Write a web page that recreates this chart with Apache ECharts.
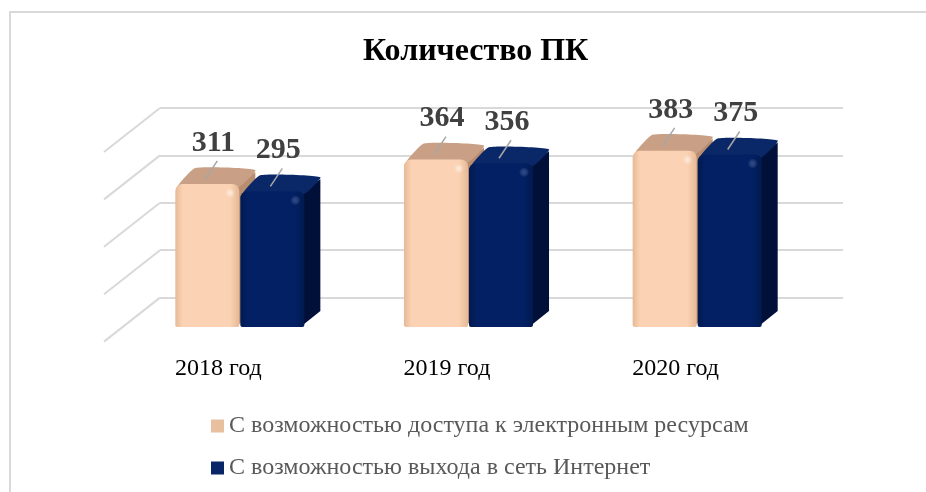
<!DOCTYPE html>
<html>
<head>
<meta charset="utf-8">
<script src="https://cdn.jsdelivr.net/npm/echarts@6/dist/echarts.min.js"></script>
<style>
  html, body { margin: 0; padding: 0; background: #fff; }
  #chart { width: 926px; height: 492px; }
</style>
</head>
<body>
<div id="chart"></div>
<script>
// chart data
const categories = ['2018 год', '2019 год', '2020 год'];
const seriesNames = [
    'С возможностью доступа к электронным ресурсам',
    'С возможностью выхода в сеть Интернет'
];
const accessValues = [311, 364, 383];
const internetValues = [295, 356, 375];
const wallTicks = [100, 200, 300, 400, 500];

const SERIF = '"Liberation Serif", "DejaVu Serif", serif';

// colours for each 3D bar: front edge, front middle, top, side, highlight
const palettes = [
    { edge: '#e6b996', mid: '#fbd3b4', top: '#c9a085', side: '#b98e70', glow: 'rgba(255,255,255,0.6)', legend: '#e8bf9f' },
    { edge: '#011a50', mid: '#022063', top: '#0a2868', side: '#011038', glow: 'rgba(120,150,220,0.35)', legend: '#0a2468' }
];

const DEPTH_X = 16;
const DEPTH_Y = -16;

function makeBarRenderer(seriesIdx) {
    const pal = palettes[seriesIdx];
    return function (params, api) {
        const cat = api.value(0);
        const val = api.value(1);
        const base = api.coord([cat, 0]);
        const top = api.coord([cat, val]);
        const band = api.size([1, 0])[0];
        const w = band * 0.28;
        const x0 = seriesIdx === 0 ? base[0] - w - 1 : base[0];
        const yTop = top[1];
        const yBot = base[1];
        const cx = x0 + w / 2;

        return {
            type: 'group',
            children: [
                {
                    type: 'polygon',
                    shape: { points: [
                        [x0 + w - 4, yTop + 2], [x0 + w + DEPTH_X, yTop + DEPTH_Y + 4],
                        [x0 + w + DEPTH_X, yBot + DEPTH_Y], [x0 + w - 4, yBot]
                    ] },
                    style: { fill: pal.side }
                },
                {
                    type: 'polygon',
                    shape: { points: [
                        [x0 + 2, yTop + 4], [x0 + w - 2, yTop + 4],
                        [x0 + w + DEPTH_X, yTop + DEPTH_Y + 2], [x0 + DEPTH_X + 4, yTop + DEPTH_Y]
                    ], smooth: 0.15 },
                    style: { fill: pal.top }
                },
                {
                    type: 'rect',
                    shape: { x: x0, y: yTop, width: w, height: yBot - yTop, r: [7, 7, 2, 2] },
                    style: {
                        fill: {
                            type: 'linear', x: 0, y: 0, x2: 1, y2: 0,
                            colorStops: [
                                { offset: 0, color: pal.edge },
                                { offset: 0.12, color: pal.mid },
                                { offset: 0.85, color: pal.mid },
                                { offset: 1, color: pal.edge }
                            ]
                        }
                    }
                },
                {
                    type: 'circle',
                    shape: { cx: x0 + w - 9, cy: yTop + 9, r: 5 },
                    style: {
                        fill: {
                            type: 'radial', x: 0.5, y: 0.5, r: 0.5,
                            colorStops: [
                                { offset: 0, color: pal.glow },
                                { offset: 1, color: 'rgba(255,255,255,0)' }
                            ]
                        }
                    }
                },
                {
                    type: 'line',
                    shape: { x1: cx - 2, y1: yTop - 5, x2: cx + 10, y2: yTop - 23 },
                    style: { stroke: '#a6a6a6', lineWidth: 1.5 }
                },
                {
                    type: 'text',
                    style: {
                        text: String(val),
                        x: cx + 6,
                        y: yTop - 41,
                        align: 'center',
                        verticalAlign: 'middle',
                        fill: '#404040',
                        font: 'bold 30px ' + SERIF
                    }
                }
            ]
        };
    };
}

function renderWallLine(params, api) {
    const p = api.coord([0, api.value(0)]);
    return {
        type: 'line',
        shape: { x1: p[0], y1: p[1], x2: p[0] - 56, y2: p[1] + 44 },
        style: { stroke: '#d9d9d9', lineWidth: 2 }
    };
}

const chart = echarts.init(document.getElementById('chart'), null, { renderer: 'canvas' });

const option = {
    animation: false,
    backgroundColor: '#fff',
    title: {
        text: 'Количество ПК',
        left: 363,
        top: 36,
        padding: 0,
        textStyle: { fontFamily: SERIF, fontSize: 32, fontWeight: 'bold', color: '#000' }
    },
    graphic: [{
        type: 'rect',
        silent: true,
        z: -10,
        shape: { x: 10, y: 12, width: 960, height: 520 },
        style: { fill: 'none', stroke: '#d9d9d9', lineWidth: 2 }
    }],
    legend: {
        orient: 'vertical',
        left: 211,
        top: 412,
        padding: 0,
        itemGap: 14,
        itemWidth: 13,
        itemHeight: 13,
        icon: 'rect',
        textStyle: { fontFamily: SERIF, fontSize: 24, lineHeight: 28, color: '#595959' },
        data: [
            { name: seriesNames[0], itemStyle: { color: palettes[0].legend } },
            { name: seriesNames[1], itemStyle: { color: palettes[1].legend } }
        ]
    },
    grid: [
        { left: 126, right: 114, top: 97, bottom: 165 },
        { left: 160, right: 83, top: 108, bottom: 147 }
    ],
    xAxis: [
        {
            gridIndex: 0,
            type: 'category',
            data: categories,
            axisLine: { show: false },
            axisTick: { show: false },
            axisLabel: {
                margin: 30,
                padding: [0, 44, 0, 0],
                fontFamily: SERIF,
                fontSize: 24,
                color: '#000'
            }
        },
        { gridIndex: 1, type: 'value', min: 0, max: 1, show: false }
    ],
    yAxis: [
        { gridIndex: 0, type: 'value', min: 0, max: 500, show: false, splitLine: { show: false } },
        {
            gridIndex: 1,
            type: 'value',
            min: 0,
            max: 500,
            interval: 100,
            axisLine: { show: false },
            axisTick: { show: false },
            axisLabel: { show: false },
            splitLine: { showMinLine: false, lineStyle: { color: '#d9d9d9', width: 2 } }
        }
    ],
    series: [
        {
            name: 'wall',
            type: 'custom',
            xAxisIndex: 1,
            yAxisIndex: 1,
            silent: true,
            z: 1,
            data: wallTicks.map(v => [v]),
            renderItem: renderWallLine
        },
        {
            name: seriesNames[0],
            type: 'custom',
            xAxisIndex: 0,
            yAxisIndex: 0,
            z: 2,
            itemStyle: { color: palettes[0].legend },
            encode: { x: 0, y: 1 },
            data: accessValues.map((v, i) => [i, v]),
            renderItem: makeBarRenderer(0)
        },
        {
            name: seriesNames[1],
            type: 'custom',
            xAxisIndex: 0,
            yAxisIndex: 0,
            z: 3,
            itemStyle: { color: palettes[1].legend },
            encode: { x: 0, y: 1 },
            data: internetValues.map((v, i) => [i, v]),
            renderItem: makeBarRenderer(1)
        }
    ]
};

chart.setOption(option);
window.addEventListener('resize', () => chart.resize());
</script>
</body>
</html>
